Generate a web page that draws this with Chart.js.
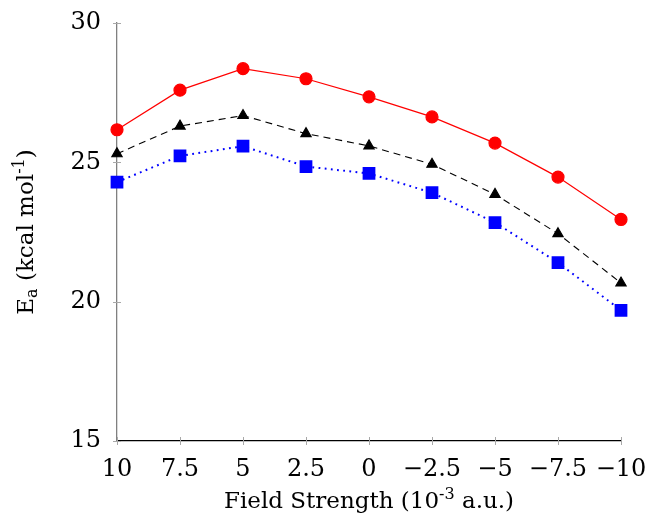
<!DOCTYPE html>
<html>
<head>
<meta charset="utf-8">
<script src="https://cdn.jsdelivr.net/npm/chart.js@4.4.1/dist/chart.umd.min.js"></script>
<style>
  html, body { margin: 0; padding: 0; background: #fff; }
  #wrap { width: 647px; height: 516px; }
</style>
</head>
<body>
<div id="wrap"><canvas id="eaChart"></canvas></div>
<script>
// Campo eléctrico (10^-3 a.u.) y energías de activación (kcal/mol)
const fieldLabels = ['10', '7.5', '5', '2.5', '0', '\u22122.5', '\u22125', '\u22127.5', '\u221210'];
const serieRed   = [26.17, 27.59, 28.36, 28.00, 27.35, 26.63, 25.69, 24.47, 22.95];
const serieBlack = [25.31, 26.30, 26.68, 26.03, 25.59, 24.93, 23.85, 22.44, 20.67];
const serieBlue  = [24.29, 25.23, 25.58, 24.85, 24.60, 23.91, 22.84, 21.40, 19.69];
const yTicks = [15, 20, 25, 30];

const FONT = '"DejaVu Serif", "Liberation Serif", serif';
const TICK_SIZE = 24;
const TITLE_SIZE = 23;

// dibuja texto con sub/superíndices: partes [texto, 'n'|'sub'|'sup']
function richText(ctx, parts, cx, cy) {
  const small = Math.round(TITLE_SIZE * 0.7);
  let total = 0;
  parts.forEach(p => {
    ctx.font = (p[1] === 'n' ? TITLE_SIZE : small) + 'px ' + FONT;
    total += ctx.measureText(p[0]).width;
  });
  let x = cx - total / 2;
  ctx.textAlign = 'left';
  ctx.textBaseline = 'alphabetic';
  parts.forEach(p => {
    ctx.font = (p[1] === 'n' ? TITLE_SIZE : small) + 'px ' + FONT;
    let dy = 0;
    if (p[1] === 'sup') dy = -TITLE_SIZE * 0.38;
    if (p[1] === 'sub') dy = TITLE_SIZE * 0.18;
    ctx.fillText(p[0], x, cy + dy);
    x += ctx.measureText(p[0]).width;
  });
}

// sin relleno automático: el área del gráfico la fija layout.padding
function noAutoPadding(scale) {
  scale.paddingLeft = 0;
  scale.paddingRight = 0;
  scale.paddingTop = 0;
  scale.paddingBottom = 0;
}

const axisDecor = {
  id: 'axisDecor',
  beforeDatasetsDraw(chart) {
    const {ctx, chartArea: a, scales: {x, y}} = chart;
    ctx.save();
    ctx.strokeStyle = '#a8a8a8';
    ctx.lineWidth = 1;
    ctx.beginPath();
    y.ticks.forEach((t, i) => {
      const py = Math.round(y.getPixelForTick(i)) + 0.5;
      ctx.moveTo(a.left - 4, py); ctx.lineTo(a.left + 4, py);
    });
    x.ticks.forEach((t, i) => {
      const px = Math.round(x.getPixelForTick(i)) + 0.5;
      ctx.moveTo(px, a.bottom - 4); ctx.lineTo(px, a.bottom + 4);
    });
    ctx.stroke();
    ctx.restore();
  },
  afterDraw(chart) {
    const {ctx, chartArea: a} = chart;
    ctx.save();
    ctx.fillStyle = '#000';
    richText(ctx, [['Field Strength (10', 'n'], ['-3', 'sup'], [' a.u.)', 'n']],
      (a.left + a.right) / 2, 508);
    ctx.translate(33, (a.top + a.bottom) / 2);
    ctx.rotate(-Math.PI / 2);
    richText(ctx, [['E', 'n'], ['a', 'sub'], [' (kcal mol', 'n'], ['-1', 'sup'], [')', 'n']], 0, 0);
    ctx.restore();
  }
};

const ctx = document.getElementById('eaChart').getContext('2d');
const eaChart = new Chart(ctx, {
  type: 'line',
  data: {
    labels: fieldLabels,
    datasets: [{
      data: serieRed,
      borderColor: '#ff0000',
      backgroundColor: '#ff0000',
      borderWidth: 1.2,
      pointStyle: 'circle',
      pointRadius: 6,
      clip: false
    }, {
      data: serieBlack,
      borderColor: '#000000',
      backgroundColor: '#000000',
      borderWidth: 1.1,
      borderDash: [7, 5],
      pointStyle: 'triangle',
      pointRadius: 6,
      clip: false
    }, {
      data: serieBlue,
      borderColor: '#0000ff',
      backgroundColor: '#0000ff',
      borderWidth: 2,
      borderDash: [1.8, 4.4],
      pointStyle: 'rect',
      pointRadius: 7.6,
      clip: false
    }]
  },
  options: {
    responsive: true,
    maintainAspectRatio: false,
    animation: false,
    layout: { padding: { left: 0, right: 26, top: 23, bottom: 0 } },
    plugins: { legend: { display: false }, tooltip: { enabled: false } },
    elements: { line: { tension: 0, fill: false }, point: { borderWidth: 0 } },
    scales: {
      x: {
        type: 'category',
        offset: false,
        grid: { display: false },
        border: { display: true, color: '#000000', width: 1.3 },
        ticks: { color: '#000', padding: 6, maxRotation: 0, autoSkip: false,
                 font: { family: FONT, size: TICK_SIZE } },
        afterFit(scale) { scale.height = 75; noAutoPadding(scale); }
      },
      y: {
        min: 15,
        max: 30,
        afterBuildTicks(scale) { scale.ticks = yTicks.map(v => ({ value: v })); },
        grid: { display: false },
        border: { display: true, color: '#808080', width: 1.3 },
        ticks: { color: '#000', padding: 8, font: { family: FONT, size: TICK_SIZE } },
        afterFit(scale) { scale.width = 117; noAutoPadding(scale); }
      }
    }
  },
  plugins: [axisDecor]
});
</script>
</body>
</html>
